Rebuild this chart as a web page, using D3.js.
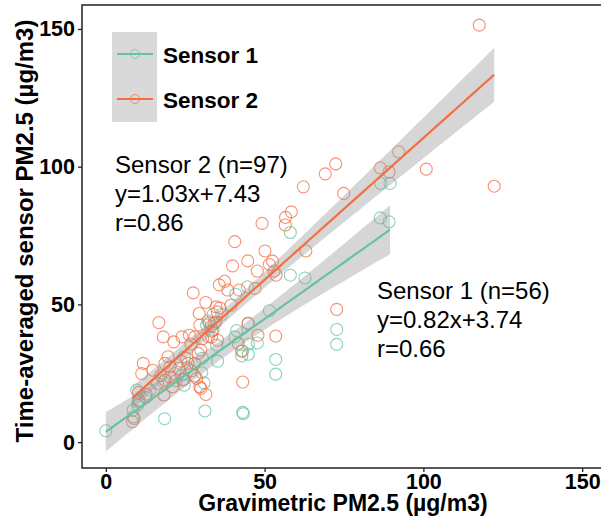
<!DOCTYPE html>
<html>
<head>
<meta charset="utf-8">
<script src="https://cdn.jsdelivr.net/npm/d3@7"></script>
<style>
  body { margin: 0; background: #fff; }
  text { font-family: "Liberation Sans", Arial, sans-serif; }
</style>
</head>
<body>
<div id="chart"></div>
<script>
// values (µg/m3)
var sensor1X = [0.0, 18.5, 8.6, 8.6, 10.0, 13.9, 12.6, 9.7, 18.1, 24.7, 24.2, 23.9, 25.5, 24.7, 30.2, 30.9, 30.4, 31.2,
  35.2, 34.9, 33.8, 32.2, 31.7, 33.8, 36.5, 33.1, 40.6, 42.8, 43.1, 44.9, 44.9, 47.7, 43.1, 43.3, 53.5, 53.5,
  40.9, 44.6, 44.8, 51.5, 58.1, 62.7, 58.1, 72.7, 72.7, 86.4, 89.2, 86.6, 89.5, 10.2, 41.2];
var sensor1Y = [4.1, 8.5, 11.6, 9.2, 13.4, 18.9, 16.2, 18.9, 21.9, 20.7, 22.5, 24.3, 27.1, 31.0, 25.2, 21.5, 30.4, 11.3,
  29.4, 35.2, 40.7, 44.0, 42.5, 46.4, 46.4, 41.9, 38.2, 31.3, 33.0, 35.6, 31.9, 36.0, 10.8, 10.3, 30.0, 24.7,
  53.7, 56.4, 43.1, 47.7, 60.6, 59.6, 76.1, 40.9, 35.5, 81.4, 80.0, 93.9, 93.9, 14.6, 40.5];

var sensor2X = [117.6, 122.3, 100.9, 92.2, 86.4, 89.2, 72.4, 69.1, 62.2, 74.9, 56.6, 58.4, 56.5, 49.2, 40.6, 50.1, 63.0,
  39.9, 44.7, 47.7, 51.5, 52.5, 53.0, 53.6, 47.0, 42.0, 72.7, 44.8, 47.9, 53.5, 41.7, 43.1, 31.5, 29.6, 29.9, 32.3,
  33.3, 42.7, 27.5, 31.5, 35.7, 38.4, 37.4, 29.4, 34.7, 35.9, 35.1, 39.4, 34.7, 29.6, 16.7, 18.1, 21.4, 24.0, 26.3,
  28.0, 26.8, 30.5, 11.8, 11.3, 14.8, 18.6, 19.6, 23.6, 25.9, 28.0, 29.1, 17.3, 18.6, 21.7, 22.1, 24.5, 27.0, 28.0,
  16.3, 18.3, 21.0, 12.7, 10.2, 10.5, 8.9, 8.4, 28.6, 29.9, 20.2, 32.6, 34.1, 35.2, 20.2, 23.0, 25.5, 33.4];
var sensor2Y = [151.4, 92.9, 99.1, 105.4, 99.6, 98.1, 101.0, 97.4, 92.7, 90.3, 81.6, 83.6, 78.8, 79.4, 72.8, 69.4, 69.4,
  64.0, 65.8, 62.1, 64.5, 65.7, 62.1, 60.6, 55.8, 55.2, 48.2, 43.1, 38.8, 38.5, 35.8, 21.8, 17.3, 20.1, 33.4, 38.3,
  38.1, 33.1, 54.2, 50.7, 57.1, 55.2, 58.4, 46.7, 49.1, 48.7, 47.3, 49.7, 43.7, 42.5, 43.4, 38.2, 36.4, 38.2, 38.8,
  38.2, 35.6, 37.6, 28.6, 24.9, 26.1, 28.6, 31.0, 29.4, 28.6, 28.6, 32.2, 24.1, 22.5, 24.9, 22.3, 22.8, 25.9, 24.0,
  21.3, 17.1, 20.1, 17.4, 18.0, 15.2, 8.6, 7.4, 23.1, 19.5, 23.7, 43.3, 43.1, 37.0, 27.3, 26.8, 30.4, 40.3];

var seriesNames = ["Sensor 1", "Sensor 2"];
var seriesColors = ["#66C2A5", "#F46D43"];
var fitSlope = [0.82, 1.03];
var fitIntercept = [3.74, 7.43];
var statN = [56, 97];
var statR = [0.66, 0.86];
var xTicks = [0, 50, 100, 150];
var yTicks = [0, 50, 100, 150];

var width = 601, height = 525;
var svg = d3.select("#chart").append("svg")
    .attr("width", width)
    .attr("height", height);

var x = d3.scaleLinear().domain([-7.5, 157.5]).range([82, 606]);
var y = d3.scaleLinear().domain([-9.4, 158.7]).range([468, 5]);

var series = seriesNames.map(function (name, i) {
    var xs = i === 0 ? sensor1X : sensor2X;
    var ys = i === 0 ? sensor1Y : sensor2Y;
    return {
        name: name, color: seriesColors[i], b: fitSlope[i], a: fitIntercept[i],
        pts: xs.map(function (v, j) { return {x: v, y: ys[j]}; })
    };
});

// 95% confidence band around the fitted line
function band(s) {
    var n = s.pts.length;
    var xbar = d3.mean(s.pts, function (d) { return d.x; });
    var sxx = d3.sum(s.pts, function (d) { return (d.x - xbar) * (d.x - xbar); });
    var sse = d3.sum(s.pts, function (d) { var r = d.y - (s.a + s.b * d.x); return r * r; });
    var se = Math.sqrt(sse / (n - 2));
    var t = 1.99;
    var ext = d3.extent(s.pts, function (d) { return d.x; });
    return d3.range(0, 81).map(function (k) {
        var xv = ext[0] + (ext[1] - ext[0]) * k / 80;
        var yh = s.a + s.b * xv;
        var h = t * se * Math.sqrt(1 / n + (xv - xbar) * (xv - xbar) / sxx);
        return {x: xv, y: yh, lo: yh - h, hi: yh + h};
    });
}

var plot = svg.append("g");

series.forEach(function (s) {
    plot.append("g").selectAll("circle")
        .data(s.pts)
        .enter().append("circle")
        .attr("cx", function (d) { return x(d.x); })
        .attr("cy", function (d) { return y(d.y); })
        .attr("r", 6)
        .attr("fill", "none")
        .attr("stroke", s.color)
        .attr("stroke-opacity", 0.75)
        .attr("stroke-width", 1.1);
});

series.forEach(function (s) {
    var b = band(s);
    plot.append("path")
        .datum(b)
        .attr("fill", "#999999")
        .attr("fill-opacity", 0.4)
        .attr("d", d3.area()
            .x(function (d) { return x(d.x); })
            .y0(function (d) { return y(d.lo); })
            .y1(function (d) { return y(d.hi); }));
    plot.append("path")
        .datum(b)
        .attr("fill", "none")
        .attr("stroke", s.color)
        .attr("stroke-width", 2.2)
        .attr("d", d3.line()
            .x(function (d) { return x(d.x); })
            .y(function (d) { return y(d.y); }));
});

// panel border
svg.append("rect")
    .attr("x", 82).attr("y", 5)
    .attr("width", 524).attr("height", 463)
    .attr("fill", "none")
    .attr("stroke", "#222")
    .attr("stroke-width", 1.5);

var xAxis = svg.append("g")
    .attr("transform", "translate(0,468)")
    .call(d3.axisBottom(x).tickValues(xTicks).tickSize(4).tickPadding(2));
var yAxis = svg.append("g")
    .attr("transform", "translate(82,0)")
    .call(d3.axisLeft(y).tickValues(yTicks).tickSize(4).tickPadding(3));
[xAxis, yAxis].forEach(function (g) {
    g.select(".domain").remove();
    g.selectAll(".tick line").attr("stroke", "#222").attr("stroke-width", 1.3);
    g.selectAll(".tick text")
        .attr("fill", "#000")
        .style("font-family", "'Liberation Sans', Arial, sans-serif")
        .style("font-size", "21.5px")
        .style("font-weight", "bold");
});

svg.append("text")
    .attr("x", 343).attr("y", 511)
    .attr("text-anchor", "middle")
    .style("font-size", "23px").style("font-weight", "bold")
    .text("Gravimetric PM2.5 (µg/m3)");

svg.append("text")
    .attr("transform", "translate(33,231) rotate(-90)")
    .attr("text-anchor", "middle")
    .style("font-size", "24px").style("font-weight", "bold")
    .text("Time-averaged sensor PM2.5 (µg/m3)");

// legend
var legend = svg.append("g");
legend.append("rect")
    .attr("x", 112).attr("y", 32).attr("width", 45).attr("height", 90)
    .attr("fill", "#D9D9D9");
series.forEach(function (s, i) {
    var ly = 54 + i * 45;
    legend.append("line")
        .attr("x1", 117).attr("x2", 153).attr("y1", ly).attr("y2", ly)
        .attr("stroke", s.color).attr("stroke-width", 2.2);
    legend.append("circle")
        .attr("cx", 135).attr("cy", ly).attr("r", 4.5)
        .attr("fill", "none").attr("stroke", s.color)
        .attr("stroke-opacity", 0.75).attr("stroke-width", 1);
    legend.append("text")
        .attr("x", 163).attr("y", ly + 8.5)
        .style("font-size", "22.5px").style("font-weight", "bold")
        .text(s.name);
});

// fit annotations
var notePos = [[377, 299], [115, 173]];
series.forEach(function (s, i) {
    var lines = [
        s.name + " (n=" + statN[i] + ")",
        "y=" + s.b.toFixed(2) + "x+" + s.a.toFixed(2),
        "r=" + statR[i].toFixed(2)
    ];
    var t = svg.append("text")
        .attr("x", notePos[i][0]).attr("y", notePos[i][1])
        .style("font-size", "24px");
    lines.forEach(function (l, k) {
        t.append("tspan").attr("x", notePos[i][0]).attr("dy", k === 0 ? 0 : 29).text(l);
    });
});
</script>
</body>
</html>
